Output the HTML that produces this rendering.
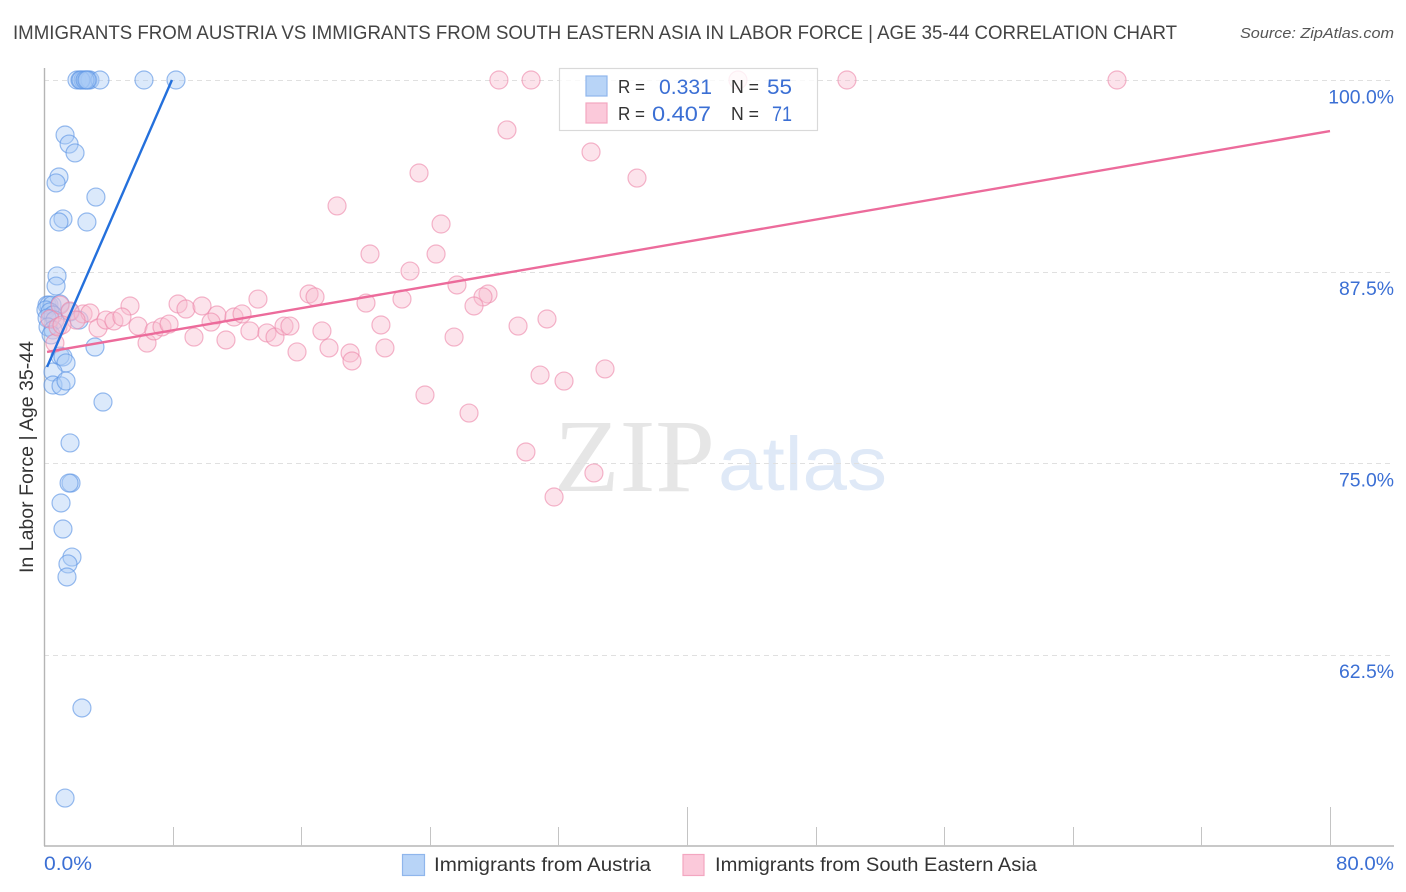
<!DOCTYPE html>
<html lang="en">
<head>
<meta charset="utf-8">
<title>Correlation Chart</title>
<style>
html,body{margin:0;padding:0;background:#fff;width:1406px;height:892px;overflow:hidden}
svg{display:block}
text{font-family:"Liberation Sans",sans-serif}
</style>
</head>
<body>
<svg id="chart" width="1406" height="892" viewBox="0 0 1406 892" xmlns="http://www.w3.org/2000/svg">
  <rect x="0" y="0" width="1406" height="892" fill="#ffffff"/>
  <text x="13" y="39" font-size="19.5" fill="#444444" textLength="1164" lengthAdjust="spacingAndGlyphs">IMMIGRANTS FROM AUSTRIA VS IMMIGRANTS FROM SOUTH EASTERN ASIA IN LABOR FORCE | AGE 35-44 CORRELATION CHART</text>
  <text x="1394" y="38" font-size="15" font-style="italic" fill="#555555" text-anchor="end" textLength="154" lengthAdjust="spacingAndGlyphs">Source: ZipAtlas.com</text>

  <g>
    <text x="554" y="491" font-size="104" fill="#e6e6e6" style="font-family:'Liberation Serif',serif" textLength="161" lengthAdjust="spacingAndGlyphs">ZIP</text>
    <text x="718" y="490" font-size="76" fill="#dfe9f7" textLength="169" lengthAdjust="spacingAndGlyphs">atlas</text>
  </g>

  <g id="grid"></g>
  <g id="axes"></g>
  <g id="blue-points"></g>
  <g id="pink-points"></g>
  <g id="trends"></g>
  <g id="ylabels"></g>

  <text transform="translate(33,457) rotate(-90)" font-size="19" fill="#333333" text-anchor="middle" textLength="232" lengthAdjust="spacingAndGlyphs">In Labor Force | Age 35-44</text>
  <text x="44" y="870" font-size="19" fill="#3b6fd4" textLength="48" lengthAdjust="spacingAndGlyphs">0.0%</text>
  <text x="1394" y="870" font-size="19" fill="#3b6fd4" text-anchor="end" textLength="58" lengthAdjust="spacingAndGlyphs">80.0%</text>

  <g>
    <rect x="559.5" y="68.5" width="258" height="62" fill="#ffffff" fill-opacity="0.8" stroke="#d9d9d9" stroke-width="1.2"/>
    <rect x="586" y="76" width="21" height="20" fill="#b8d4f7" stroke="#8fb6ec" stroke-width="1.2"/>
    <rect x="586" y="103" width="21" height="20" fill="#fbc9da" stroke="#f3a6c0" stroke-width="1.2"/>
    <text x="618" y="93" font-size="18.5" fill="#333" textLength="27" lengthAdjust="spacingAndGlyphs">R =</text>
    <text x="659" y="94" font-size="21" fill="#3b6fd4" textLength="53" lengthAdjust="spacingAndGlyphs">0.331</text>
    <text x="731" y="93" font-size="18.5" fill="#333" textLength="28" lengthAdjust="spacingAndGlyphs">N =</text>
    <text x="767" y="94" font-size="21" fill="#3b6fd4" textLength="25" lengthAdjust="spacingAndGlyphs">55</text>
    <text x="618" y="120" font-size="18.5" fill="#333" textLength="27" lengthAdjust="spacingAndGlyphs">R =</text>
    <text x="652" y="121" font-size="21" fill="#3b6fd4" textLength="59" lengthAdjust="spacingAndGlyphs">0.407</text>
    <text x="731" y="120" font-size="18.5" fill="#333" textLength="28" lengthAdjust="spacingAndGlyphs">N =</text>
    <text x="772" y="121" font-size="21" fill="#3b6fd4" textLength="20" lengthAdjust="spacingAndGlyphs">71</text>
  </g>

  <g>
    <g>
      <rect x="402.5" y="854.5" width="22" height="21" fill="#b8d4f7" stroke="#8fb6ec" stroke-width="1.2"/>
      <text x="434" y="871" font-size="19.5" fill="#333333" textLength="217" lengthAdjust="spacingAndGlyphs">Immigrants from Austria</text>
    </g>
    <g>
      <rect x="683" y="854.5" width="21" height="21" fill="#fbc9da" stroke="#f3a6c0" stroke-width="1.2"/>
      <text x="715" y="871" font-size="19.5" fill="#333333" textLength="322" lengthAdjust="spacingAndGlyphs">Immigrants from South Eastern Asia</text>
    </g>
  </g>
</svg>
<script>
const yTicks = [100, 87.5, 75, 62.5];
const yTickLabels = ["100.0%", "87.5%", "75.0%", "62.5%"];
const xTicks = [0, 8, 16, 24, 32, 40, 48, 56, 64, 72, 80];
const xMajorTicks = [0, 40, 80];

const austriaX = [2.05,2.24,2.43,2.61,2.74,2.86,3.48,6.22,8.21,2.3,2.55,2.68,
  1.31,1.56,1.93,0.93,0.75,1.18,0.93,2.67,3.23,0.81,0.75,
  0.19,0.31,0.5,1.0,0.12,0.37,0.56,0.19,0.68,1.62,2.18,0.25,0.56,0.44,
  3.17,1.0,1.18,1.37,0.56,0.56,1.06,1.37,3.67,1.62,1.68,1.56,1.06,1.18,1.74,1.49,1.43,2.36,1.31];
const austriaY = [100,100,100,100,100,100,100,100,100,100,100,100,
  96.41,95.82,95.24,93.67,93.28,90.93,90.73,90.73,92.36,87.21,86.55,
  85.31,85.31,85.31,85.38,84.99,84.86,84.66,84.46,84.33,84.86,84.33,83.88,83.68,83.36,
  82.57,81.98,81.92,81.53,80.94,80.09,80.03,80.35,78.98,76.31,73.69,73.69,72.39,70.69,68.86,68.41,67.56,59.01,53.13];

const asiaX = [28.3,30.3,43.17,49.95,66.75,28.8,34.03,36.89,23.33,18.23,24.7,20.28,24.39,22.77,25.69,27.62,27.31,26.75,22.27,20.03,16.49,16.86,13.31,5.35,8.34,8.83,9.83,10.76,10.39,11.82,12.32,
  1.0,1.62,2.43,2.86,1.99,3.36,3.86,4.35,4.85,5.85,6.41,6.84,7.34,7.78,9.33,11.32,12.81,13.87,14.37,14.93,15.3,15.74,17.29,17.73,19.04,19.16,20.96,21.21,25.51,29.49,31.29,30.86,32.35,34.9,23.7,26.44,29.98,34.21,31.73,0.37,0.68,0.87,1.12];
const asiaY = [100,100,100,100,100,96.74,95.3,93.6,93.93,91.78,90.6,88.64,88.64,87.53,86.62,86.03,85.84,85.25,85.7,85.44,86.03,85.84,85.7,85.25,85.38,85.05,85.25,84.66,84.2,84.53,84.73,
  85.31,84.92,84.73,84.79,84.33,83.81,84.33,84.27,84.53,83.94,82.83,83.62,83.88,84.07,83.22,83.03,83.62,83.49,83.22,83.94,83.94,82.25,83.62,82.51,82.18,81.66,84.01,82.51,83.22,83.94,84.4,80.74,80.35,81.14,79.44,78.26,75.72,74.35,72.78,84.4,82.83,83.88,84.01];

const austriaTrendX = [0.19, 7.96];
const austriaTrendY = [81.27, 100];
const asiaTrendX = [0.19, 80];
const asiaTrendY = [82.25, 96.67];

function xScale(v) { return 44 + v * (1330 - 44) / 80; }
function yScale(v) { return 80 + (100 - v) * (463 - 80) / 25; }

const NS = "http://www.w3.org/2000/svg";
function mk(tag, parentId, attrs) {
  const el = document.createElementNS(NS, tag);
  for (const k in attrs) el.setAttribute(k, attrs[k]);
  document.getElementById(parentId).appendChild(el);
  return el;
}

yTicks.forEach(function (t, i) {
  const y = Math.round(yScale(t)) + 0.5;
  const line = mk("line", "grid", {x1: 44, x2: 1394, y1: y, y2: y, stroke: "#e0e0e0", "stroke-width": 1, "stroke-dasharray": "5 4"});
  
  
  const label = mk("text", "ylabels", {x: 1394, y: yScale(t) + 23.5, "font-size": 19.4, fill: "#3b6fd4", "text-anchor": "end"});
  label.textContent = yTickLabels[i];
  
  
});

const yAxis = mk("line", "axes", {x1: 44.5, x2: 44.5, y1: 68, y2: 846, stroke: "#b5b5b5", "stroke-width": 1.4});


const xAxis = mk("line", "axes", {x1: 44, x2: 1394, y1: 846, y2: 846, stroke: "#b5b5b5", "stroke-width": 1.4});



xTicks.forEach(function (t) {
  if (t === 0) return;
  const x = Math.round(xScale(t)) + 0.5;
  const top = xMajorTicks.indexOf(t) >= 0 ? 807 : 827;
  const tick = mk("line", "axes", {x1: x, x2: x, y1: top, y2: 846, stroke: "#c4c4c4", "stroke-width": 1});
  
  
});

austriaX.forEach(function (v, i) {
  const c = mk("circle", "blue-points", {cx: xScale(v), cy: yScale(austriaY[i]), r: 9, fill: "#a9cbf5", "fill-opacity": 0.42, stroke: "#5a93e4", "stroke-opacity": 0.62, "stroke-width": 1.2});
  
  
});

asiaX.forEach(function (v, i) {
  const c = mk("circle", "pink-points", {cx: xScale(v), cy: yScale(asiaY[i]), r: 9, fill: "#f9bcd0", "fill-opacity": 0.42, stroke: "#ec85a8", "stroke-opacity": 0.6, "stroke-width": 1.2});
  
  
});

const asiaLine = mk("line", "trends", {x1: xScale(asiaTrendX[0]), y1: yScale(asiaTrendY[0]), x2: xScale(asiaTrendX[1]), y2: yScale(asiaTrendY[1]), stroke: "#ec6b9b", "stroke-width": 2.4});


const austriaLine = mk("line", "trends", {x1: xScale(austriaTrendX[0]), y1: yScale(austriaTrendY[0]), x2: xScale(austriaTrendX[1]), y2: yScale(austriaTrendY[1]), stroke: "#2470dc", "stroke-width": 2.4});


</script>
</body>
</html>
